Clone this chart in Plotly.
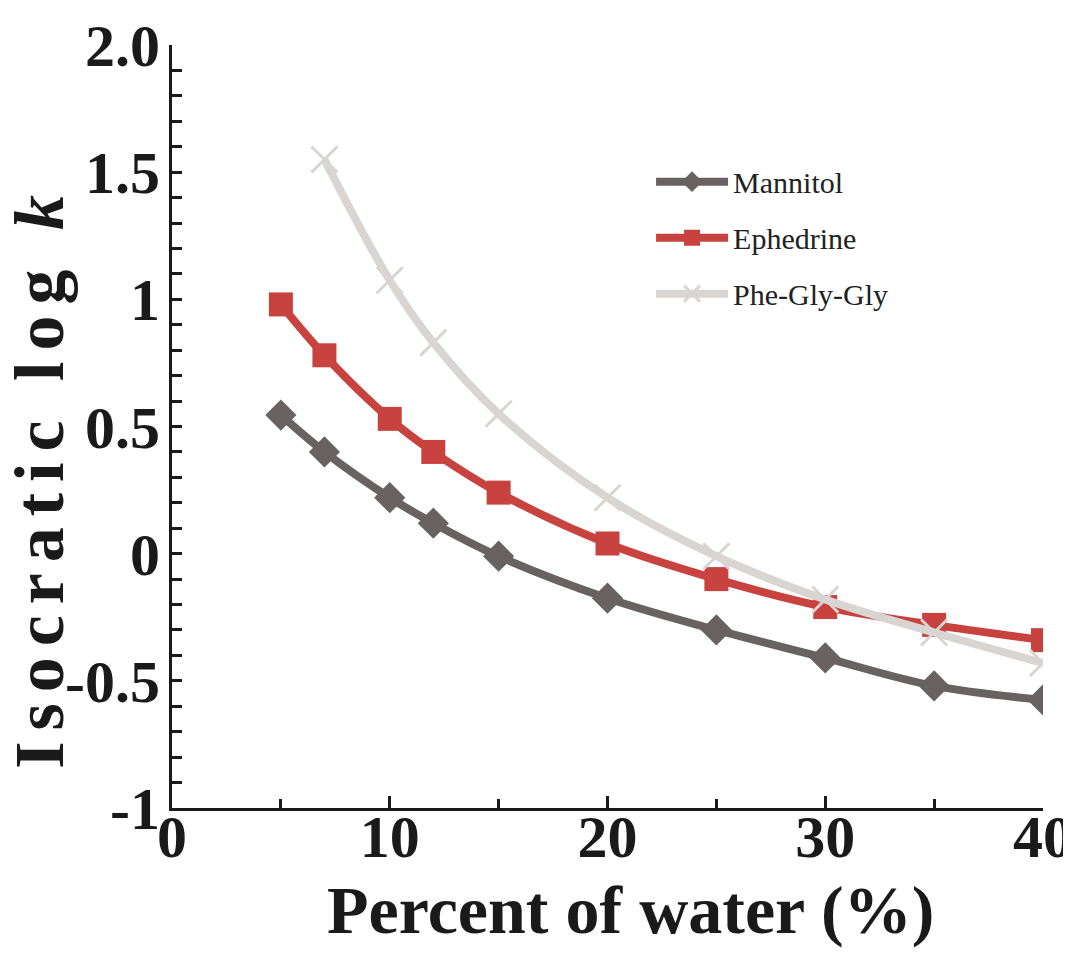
import plotly.graph_objects as go

water = [5, 7, 10, 12, 15, 20, 25, 30, 35, 40]
mannitol = [0.545, 0.40, 0.22, 0.12, -0.01, -0.175, -0.30, -0.41, -0.52, -0.575]
ephedrine = [0.98, 0.78, 0.53, 0.40, 0.24, 0.04, -0.10, -0.21, -0.28, -0.34]
pgg_water = [7, 10, 12, 15, 20, 25, 30, 35, 40]
phe_gly_gly = [1.55, 1.075, 0.83, 0.55, 0.22, -0.01, -0.18, -0.31, -0.43]

fig = go.Figure()
fig.add_trace(go.Scatter(x=water, y=mannitol, name="Mannitol", legendgroup="a",
                         mode="lines+markers", line=dict(color="#686262", width=8, shape="spline"),
                         marker=dict(symbol="diamond", size=24, color="#686262")))
fig.add_trace(go.Scatter(x=water, y=ephedrine, name="Ephedrine", legendgroup="b",
                         mode="lines+markers", line=dict(color="#c8433f", width=8, shape="spline"),
                         marker=dict(symbol="square", size=24, color="#c8433f")))
fig.add_trace(go.Scatter(x=pgg_water, y=phe_gly_gly, name="Phe-Gly-Gly", legendgroup="c",
                         mode="lines+markers", line=dict(color="#d8d5d2", width=8, shape="spline"),
                         marker=dict(symbol="x-thin", size=26, color="#d8d5d2",
                                     line=dict(color="#d8d5d2", width=3))))

font_main = "Liberation Serif, Times New Roman, serif"
fig.update_layout(
    width=1063, height=950,
    margin=dict(l=164, r=28, t=37, b=150),
    paper_bgcolor="white", plot_bgcolor="white",
    font=dict(family=font_main, color="#1a1a1a"),
    legend=dict(x=0.55, y=0.855, xanchor="left", yanchor="top",
                font=dict(size=30, family=font_main, color="#222"),
                itemwidth=72, tracegroupgap=14, bgcolor="rgba(0,0,0,0)"),
    showlegend=True,
)
fig.add_annotation(text='<b><span style="letter-spacing:11px">Isocratic log <i>k</i></span></b>',
                   textangle=-90, xref="paper", yref="paper", x=-0.153, y=0.435,
                   xanchor="center", yanchor="middle", showarrow=False,
                   font=dict(size=70, family=font_main, color="#1a1a1a"))
fig.add_annotation(text="<b>Percent of water (%)</b>",
                   xref="paper", yref="paper", x=0.526, y=-0.134,
                   xanchor="center", yanchor="middle", showarrow=False,
                   font=dict(size=68, family=font_main, color="#1a1a1a"))
fig.update_xaxes(range=[0, 40], tickvals=[0, 10, 20, 30, 40], automargin=False,
                 ticks="inside", ticklen=12, tickwidth=3, tickcolor="#1a1a1a",
                 ticklabelstandoff=-26, ticklabeloverflow="allow",
                 minor=dict(dtick=5, ticks="inside", ticklen=9, tickwidth=3, tickcolor="#1a1a1a"),
                 showline=True, linewidth=3, linecolor="#1a1a1a", showgrid=False, zeroline=False,
                 tickfont=dict(size=60, family=font_main, weight="bold"))
fig.update_yaxes(range=[-1, 2.0], tickvals=[-1, -0.5, 0, 0.5, 1, 1.5, 2.0], automargin=False,
                 ticktext=["-1", "-0.5", "0", "0.5", "1", "1.5", "2.0"],
                 ticks="inside", ticklen=10, tickwidth=3, tickcolor="#1a1a1a",
                 ticklabelstandoff=-3, ticklabeloverflow="allow",
                 minor=dict(dtick=0.1, tick0=0, ticks="inside", ticklen=10, tickwidth=3, tickcolor="#1a1a1a"),
                 showline=True, linewidth=3, linecolor="#1a1a1a", showgrid=False, zeroline=False,
                 tickfont=dict(size=60, family=font_main, weight="bold"))

fig.write_html("out.html")
